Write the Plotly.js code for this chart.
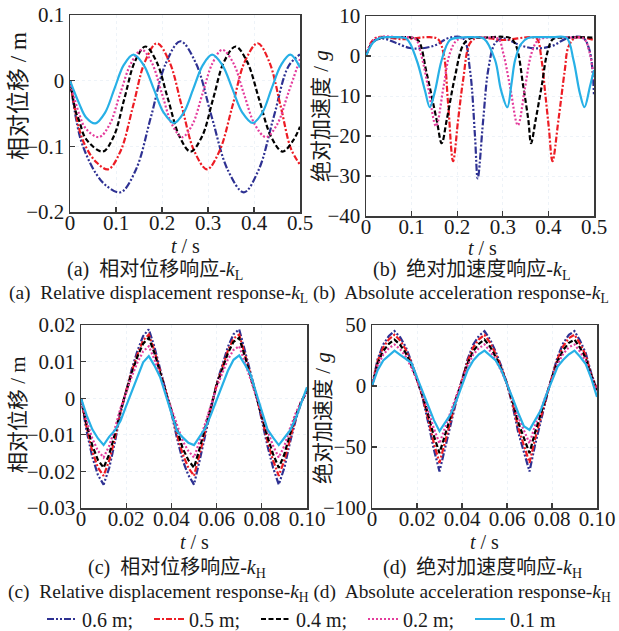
<!DOCTYPE html>
<html>
<head>
<meta charset="utf-8">
<script src="https://cdn.plot.ly/plotly-3.0.1.min.js"></script>
<style>html,body{margin:0;padding:0;background:#fff;}#chart{width:619px;height:631px;}</style>
</head>
<body>
<div id="chart"></div>
<script>
// ---------------- DATA ----------------
const seriesNames = ['0.6 m;', '0.5 m;', '0.4 m;', '0.2 m;', '0.1 m'];

// (a) relative displacement, k_L  (t in s, value in m)
const aT06 = [0,0.02,0.035,0.057,0.079,0.11,0.143,0.176,0.208,0.24,0.274,0.308,0.343,0.378,0.41,0.443,0.475,0.5];
const aV06 = [0,-0.081,-0.112,-0.142,-0.16,-0.17,-0.136,-0.055,0.026,0.06,0.026,-0.055,-0.136,-0.17,-0.136,-0.055,0.022,0.04];
const aT05 = [0,0.02,0.035,0.057,0.083,0.11,0.137,0.163,0.189,0.216,0.243,0.27,0.298,0.325,0.353,0.38,0.408,0.433,0.458,0.48,0.5];
const aV05 = [0,-0.0735,-0.1015,-0.124,-0.135,-0.107,-0.039,0.029,0.057,0.029,-0.039,-0.107,-0.135,-0.107,-0.039,0.029,0.057,0.029,-0.039,-0.103,-0.128];
const aT04 = [0,0.013,0.02,0.035,0.071,0.095,0.118,0.141,0.164,0.188,0.213,0.238,0.262,0.287,0.311,0.335,0.36,0.385,0.411,0.437,0.462,0.486,0.5];
const aV04 = [0,-0.048,-0.061,-0.089,-0.108,-0.085,-0.028,0.029,0.052,0.029,-0.028,-0.085,-0.108,-0.085,-0.028,0.029,0.052,0.029,-0.028,-0.085,-0.108,-0.09,-0.07];
const aT02 = [0,0.02,0.035,0.063,0.086,0.109,0.133,0.156,0.178,0.2,0.222,0.244,0.266,0.288,0.31,0.331,0.355,0.378,0.402,0.426,0.45,0.474,0.5];
const aV02 = [0,-0.051,-0.0735,-0.086,-0.067,-0.02,0.027,0.047,0.027,-0.02,-0.067,-0.086,-0.067,-0.02,0.027,0.047,0.027,-0.02,-0.067,-0.086,-0.067,-0.02,0.033];
const aT01 = [0,0.02,0.035,0.055,0.076,0.0965,0.117,0.138,0.16,0.182,0.204,0.226,0.247,0.268,0.289,0.309,0.331,0.353,0.375,0.397,0.418,0.438,0.459,0.479,0.5];
const aV01 = [0,-0.035,-0.056,-0.065,-0.049,-0.0125,0.024,0.0396,0.024,-0.0125,-0.049,-0.0645,-0.049,-0.0125,0.024,0.0396,0.024,-0.0125,-0.049,-0.0645,-0.049,-0.0125,0.024,0.0396,0.02];

// (b) absolute acceleration, k_L  (value in g)
const bT06 = [0,0.015,0.035,0.065,0.096,0.12,0.15,0.184,0.213,0.228,0.239,0.245,0.257,0.268,0.283,0.3,0.34,0.374,0.41,0.44,0.475,0.49,0.5];
const bV06 = [0,3.5,4.4,3.3,2.0,1.9,2.6,4.6,4.4,-3.5,-20,-30.6,-16,-3.5,3.2,4.4,2.6,1.9,2.6,4.4,4.6,1.5,-10];
const bT05 = [0,0.012,0.025,0.08,0.14,0.158,0.17,0.18,0.191,0.202,0.213,0.228,0.245,0.3,0.36,0.375,0.385,0.393,0.401,0.409,0.422,0.436,0.444,0.46,0.5];
const bV05 = [0,3.5,4.7,4.2,4.7,4.2,0.7,-11.8,-26.3,-16,-6,3.2,4.6,4.0,4.7,4.3,-1,-9.3,-18,-26.3,-16,-3.5,2.3,4.6,4.0];
const bT04 = [0,0.015,0.035,0.07,0.1,0.115,0.133,0.155,0.166,0.177,0.195,0.213,0.228,0.26,0.3,0.318,0.33,0.345,0.356,0.362,0.372,0.385,0.398,0.41,0.44,0.5];
const bV04 = [0,3.5,4.6,4.7,4.6,3.8,-4.3,-16,-21.8,-16,-5.2,2.75,4.4,4.6,4.8,4.4,2.3,-7.7,-16,-21.8,-16,-7.7,1,4.2,4.6,4.6];
const bT02 = [0,0.015,0.035,0.07,0.108,0.12,0.136,0.1535,0.17,0.184,0.2,0.23,0.26,0.29,0.301,0.316,0.333,0.349,0.363,0.378,0.41,0.45,0.478,0.49,0.5];
const bV02 = [0,3.8,4.8,4.7,4.3,0.7,-7.7,-17.5,-7.7,0.7,4,4.7,4.6,4.3,0.7,-7.7,-17.3,-7.7,0.7,4,4.7,4.6,4.3,1,-6];
const bT01 = [0,0.015,0.03,0.06,0.089,0.111,0.129,0.14,0.151,0.166,0.184,0.205,0.235,0.259,0.283,0.296,0.31,0.319,0.327,0.34,0.355,0.38,0.41,0.44,0.455,0.469,0.479,0.491,0.5];
const bV01 = [0,3.3,4.5,4.7,4.3,-1,-8.5,-12.8,-8.9,-1,4,4.6,4.7,4.3,-1,-8.5,-12.8,-7,-1,3,4.5,4.7,4.7,4.5,-1,-9.3,-12.8,-7.7,-3.5];

// (c)/(d) sample times (s)
const hT = [0,0.0025,0.005,0.0075,0.01,0.0125,0.015,0.0175,0.02,0.0225,0.025,0.0275,0.03,0.0325,0.035,0.0375,0.04,0.0425,0.045,0.0475,0.05,0.0525,0.055,0.0575,0.06,0.0625,0.065,0.0675,0.07,0.0725,0.075,0.0775,0.08,0.0825,0.085,0.0875,0.09,0.0925,0.095,0.0975,0.1];

// (c) relative displacement, k_H (m)
const cV06 = [0,-0.009,-0.016,-0.021,-0.0236,-0.019,-0.012,-0.004,0.002,0.008,0.013,0.017,0.0188,0.014,0.008,0.002,-0.004,-0.011,-0.017,-0.021,-0.0236,-0.017,-0.010,-0.003,0.004,0.009,0.014,0.0175,0.0188,0.013,0.007,0.001,-0.006,-0.013,-0.019,-0.0236,-0.019,-0.012,-0.006,-0.001,0.002];
const cV05 = [0,-0.008,-0.0145,-0.019,-0.0212,-0.017,-0.011,-0.0036,0.002,0.0074,0.012,0.0158,0.0174,0.013,0.0074,0.002,-0.0036,-0.010,-0.0153,-0.019,-0.0212,-0.0153,-0.009,-0.0027,0.0037,0.0084,0.013,0.0163,0.0174,0.012,0.0065,0.001,-0.0054,-0.0117,-0.017,-0.0212,-0.017,-0.011,-0.0054,-0.001,0.002];
const cV04 = [0,-0.0072,-0.0129,-0.0169,-0.019,-0.0153,-0.0097,-0.0032,0.0018,0.007,0.0114,0.0149,0.0165,0.0123,0.007,0.0018,-0.0032,-0.0089,-0.0137,-0.0169,-0.019,-0.0137,-0.008,-0.0024,0.0035,0.0079,0.0123,0.0154,0.0165,0.0114,0.0061,0.0009,-0.0048,-0.0105,-0.0153,-0.019,-0.0153,-0.0097,-0.0048,-0.0008,0.0018];
const cV02 = [0,-0.0062,-0.011,-0.0144,-0.0162,-0.013,-0.0082,-0.0027,0.0015,0.006,0.0098,0.0128,0.0142,0.0106,0.006,0.0015,-0.0027,-0.0075,-0.0117,-0.0144,-0.0162,-0.0117,-0.0069,-0.0021,0.003,0.0068,0.0106,0.0132,0.0142,0.0098,0.0053,0.0008,-0.0041,-0.0089,-0.013,-0.0162,-0.013,-0.0082,-0.0041,-0.0007,0.0015];
const cV01 = [0,-0.0047,-0.0085,-0.011,-0.0128,-0.0105,-0.0088,-0.0062,-0.0021,0.0019,0.0059,0.0098,0.0115,0.0089,0.0058,0.001,-0.0039,-0.009,-0.0107,-0.0122,-0.0128,-0.0105,-0.0082,-0.0045,-0.0005,0.0035,0.0075,0.0105,0.0117,0.0092,0.0065,0.0015,-0.0035,-0.0085,-0.0108,-0.0128,-0.0108,-0.0088,-0.0055,-0.0012,0.003];

// (d) absolute acceleration, k_H (g)
const dV06 = [0,22,34,41,45,40,32,20,6,-10,-30,-52,-70,-50,-30,-12,5,22,34,41,45,38,28,16,2,-16,-38,-55,-70,-48,-28,-10,8,24,35,42,45,37,27,10,-3];
const dV05 = [0,20.5,31.7,38.3,42,37.3,29.9,18.7,5.6,-9,-27,-47,-63,-45,-27,-10.8,4.7,20.5,31.7,38.3,42,35.5,26.1,14.9,1.9,-14.4,-34.2,-49.5,-63,-43.2,-25.2,-9,7.5,22.4,32.7,39.2,42,34.5,25.2,9,-3];
const dV04 = [0,18.6,28.7,34.6,38,33.8,27,16.9,5.1,-7.9,-23.6,-40.9,-55,-39.3,-23.6,-9.4,4.2,18.6,28.7,34.6,38,32.1,23.6,13.5,1.7,-12.6,-29.9,-43.2,-55,-37.7,-22,-7.9,6.8,20.3,29.5,35.4,38,31.2,22.8,8,-3];
const dV02 = [0,16.6,25.7,31,34,30.2,24.2,15.1,4.5,-6.7,-20.1,-34.9,-47,-33.6,-20.1,-8.1,3.8,16.6,25.7,31,34,28.7,21.2,12.1,1.5,-10.7,-25.5,-36.9,-47,-32.2,-18.8,-6.7,6,18.1,26.5,31.8,34,28,20.4,7,-4];
const dV01 = [0,13,21,25,29,25.5,22,19,7,-5,-16.5,-28,-37,-30,-23,-12,1,13,21,26,29,25,21,13,2,-10,-22,-33,-36,-28,-20,-7,5,16,21.5,26,29,24,18,6,-9];

// ---------------- STYLE ----------------
const colors = ['#2e3192', '#ed1c24', '#000000', '#e43c9c', '#27b0e6'];
const dashes = ['7px,2px,2px,2px,2px,2px', '6px,2px,2px,2px', '5px,2.5px', '2px,2px', 'solid'];
const W = 619, H = 631;
const SERIF = 'Liberation Serif, "Noto Sans CJK SC", serif';

const panelA = [[aT06,aV06],[aT05,aV05],[aT04,aV04],[aT02,aV02],[aT01,aV01]];
const panelB = [[bT06,bV06],[bT05,bV05],[bT04,bV04],[bT02,bV02],[bT01,bV01]];
const panelC = [cV06,cV05,cV04,cV02,cV01];
const panelD = [dV06,dV05,dV04,dV02,dV01];

const traces = [];
function addTrace(x, y, i, xa, ya, shape, show) {
  traces.push({
    x: x, y: y, type: 'scatter', mode: 'lines', name: seriesNames[i],
    xaxis: xa, yaxis: ya, showlegend: show, legendgroup: 'g' + i,
    line: {color: colors[i], width: 2.2, dash: dashes[i], shape: shape, smoothing: 1}
  });
}
panelA.forEach((p, i) => addTrace(p[0], p[1], i, 'x', 'y', 'spline', true));
panelB.forEach((p, i) => addTrace(p[0], p[1], i, 'x2', 'y2', 'spline', false));
panelC.forEach((v, i) => addTrace(hT, v, i, 'x3', 'y3', 'linear', false));
panelD.forEach((v, i) => addTrace(hT, v, i, 'x4', 'y4', 'linear', false));

function xd(a, b) { return [a / W, b / W]; }
function yd(top, bottom) { return [1 - bottom / H, 1 - top / H]; }

const axisBase = {
  showline: true, mirror: true, linecolor: '#3a3a3a', linewidth: 1.5,
  ticks: 'inside', ticklen: 5, tickwidth: 1.2, tickcolor: '#3a3a3a',
  zeroline: false, showgrid: true, gridcolor: '#eef3f8', griddash: 'dot', gridwidth: 1,
  tickfont: {family: SERIF, size: 21, color: '#1a1a1a'}, fixedrange: true
};
function ax(extra) { return Object.assign({}, axisBase, extra); }

const layout = {
  width: W, height: H, paper_bgcolor: '#fff', plot_bgcolor: '#fff',
  margin: {l: 0, r: 0, t: 0, b: 0, autoexpand: false},
  showlegend: true,
  xaxis: ax({domain: xd(70, 300), range: [0, 0.5], tickvals: [0,0.1,0.2,0.3,0.4,0.5], anchor: 'y', ticklabelstandoff: -9}),
  yaxis: ax({domain: yd(15, 212), range: [-0.2, 0.1], tickvals: [-0.2,-0.1,0,0.1], anchor: 'x'}),
  xaxis2: ax({domain: xd(366, 594), range: [0, 0.5], tickvals: [0,0.1,0.2,0.3,0.4,0.5], anchor: 'y2', ticklabelstandoff: -9}),
  yaxis2: ax({domain: yd(16, 216), range: [-40, 10], tickvals: [-40,-30,-20,-10,0,10], anchor: 'x2'}),
  xaxis3: ax({domain: xd(81, 307), range: [0, 0.1], tickvals: [0,0.02,0.04,0.06,0.08,0.1], ticktext: ['0','0.02','0.04','0.06','0.08','0.10'], anchor: 'y3', ticklabelstandoff: -9}),
  yaxis3: ax({domain: yd(325, 508), range: [-0.03, 0.02], tickvals: [-0.03,-0.02,-0.01,0,0.01,0.02], anchor: 'x3'}),
  xaxis4: ax({domain: xd(372, 597), range: [0, 0.1], tickvals: [0,0.02,0.04,0.06,0.08,0.1], ticktext: ['0','0.02','0.04','0.06','0.08','0.10'], anchor: 'y4', ticklabelstandoff: -9}),
  yaxis4: ax({domain: yd(325, 508), range: [-100, 50], tickvals: [-100,-50,0,50], anchor: 'x4'}),
  legend: {
    orientation: 'h', x: 42 / W, xanchor: 'left', y: 1 - 619 / H, yanchor: 'middle',
    font: {family: SERIF, size: 20, color: '#1a1a1a'}, itemwidth: 30, entrywidth: 62,
    bgcolor: 'rgba(0,0,0,0)', tracegroupgap: 0, traceorder: 'normal'
  },
  annotations: []
};

function ann(text, px, py, size, angle) {
  layout.annotations.push({
    text: text, xref: 'paper', yref: 'paper', x: px / W, y: 1 - py / H,
    xanchor: 'center', yanchor: 'middle', showarrow: false, textangle: angle || 0,
    font: {family: SERIF, size: size, color: '#1a1a1a'}
  });
}
// axis titles
ann('相对位移 / m', 18, 96, 23, -90);
ann('绝对加速度 / <i>g</i>', 321, 116, 21, -90);
ann('相对位移 / m', 18, 415, 21, -90);
ann('绝对加速度 / <i>g</i>', 323, 418, 21, -90);
ann('<i>t</i> / s', 185, 246, 20);
ann('<i>t</i> / s', 482, 248, 20);
ann('<i>t</i> / s', 194, 542, 20);
ann('<i>t</i> / s', 484, 542, 20);
// captions
ann('(a)  相对位移响应-<i>k</i><sub>L</sub>', 155, 270, 20);
ann('(b)  绝对加速度响应-<i>k</i><sub>L</sub>', 471, 270, 20);
ann('(a)  Relative displacement response-<i>k</i><sub>L</sub> (b)  Absolute acceleration response-<i>k</i><sub>L</sub>', 309, 294, 19.4);
ann('(c)  相对位移响应-<i>k</i><sub>H</sub>', 177, 568, 20);
ann('(d)  绝对加速度响应-<i>k</i><sub>H</sub>', 482, 568, 20);
ann('(c)  Relative displacement response-<i>k</i><sub>H</sub> (d)  Absolute acceleration response-<i>k</i><sub>H</sub>', 309, 593, 19.4);

Plotly.newPlot('chart', traces, layout, {staticPlot: true, displayModeBar: false});
</script>
</body>
</html>
